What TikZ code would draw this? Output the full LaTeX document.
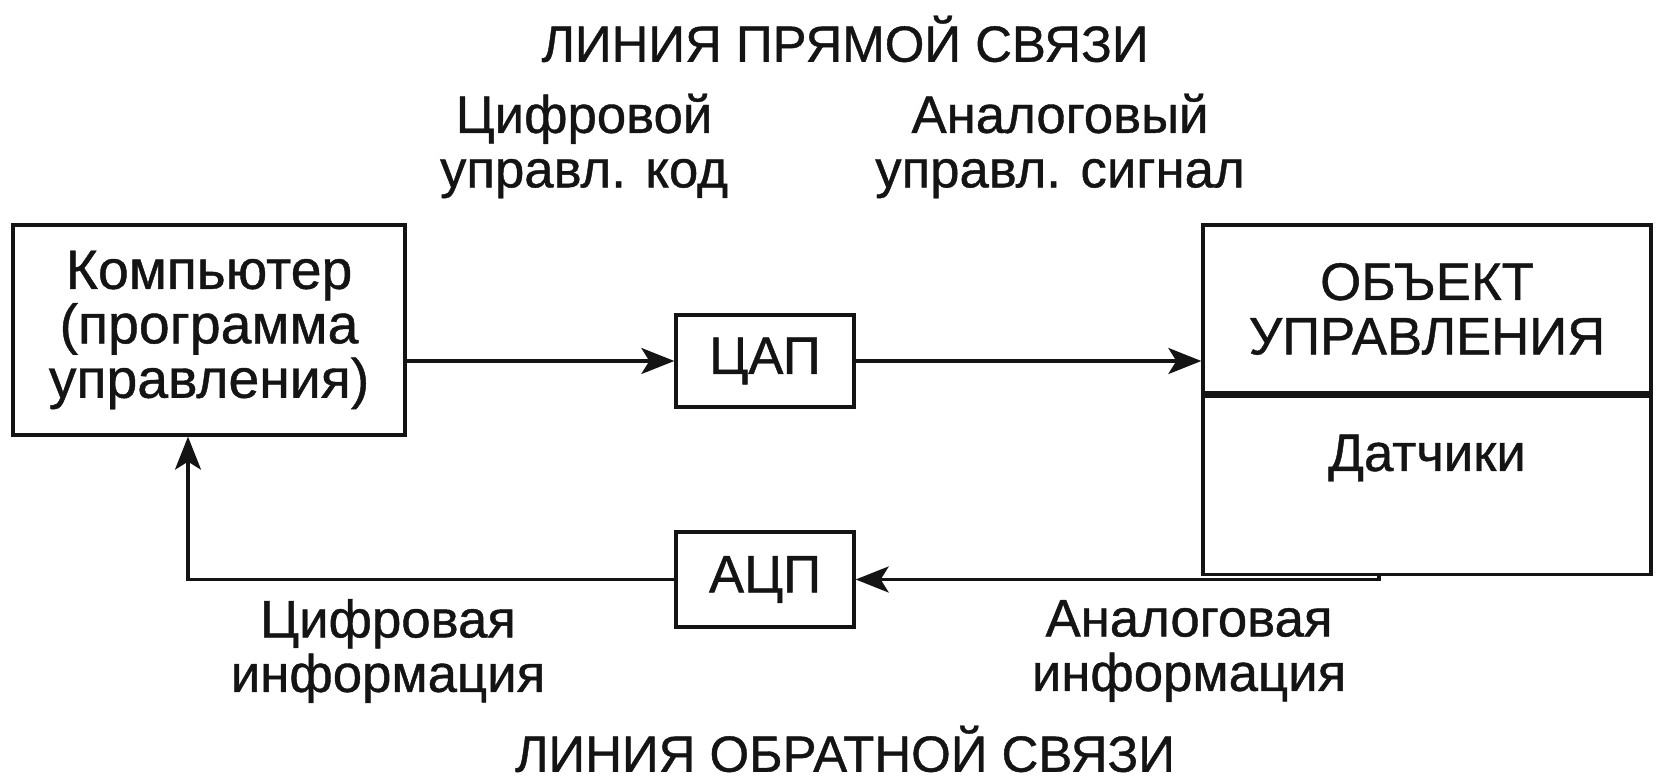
\documentclass[tikz,border=0pt]{standalone}
\usepackage{fontspec}
\setmainfont{Liberation Sans}[FakeBold=0.8]
\usetikzlibrary{arrows.meta}

\begin{document}
\begin{tikzpicture}[
    every node/.style={font=\fontsize{30}{31}\selectfont, align=center, text=inkcolor},
    block/.style={draw=inkcolor, line width=1.9pt, inner sep=0pt},
    line title/.style={font=\fontsize{29}{31}\selectfont},
    signal/.style={draw=inkcolor, line width=1.9pt, -{Stealth[length=0.66cm, width=0.52cm, inset=0.16cm]}}
]
\definecolor{inkcolor}{RGB}{20,20,20}   % Near black

% Fix the size of the picture
\useasboundingbox (0,0) rectangle (33.14,-15.6);

% Titles of the two lines
\node[line title] (fwdline) at (16.9,-0.78) {ЛИНИЯ ПРЯМОЙ СВЯЗИ};
\node[line title] (backline) at (16.9,-14.98) {ЛИНИЯ ОБРАТНОЙ СВЯЗИ};

% Blocks
\node[block, minimum width=7.84cm, minimum height=4.2cm, font=\fontsize{31.5}{31}\selectfont] (comp) at (4.18,-6.6) {Компьютер\\(программа\\управления)};
\node[block, minimum width=3.56cm, minimum height=1.84cm] (dac) at (15.3,-7.22) {ЦАП};
\node[block, minimum width=3.56cm, minimum height=1.9cm] (adc) at (15.3,-11.59) {АЦП};
\node[block, minimum width=8.96cm, minimum height=3.36cm] (plant) at (28.54,-6.18) {ОБЪЕКТ\\УПРАВЛЕНИЯ};
\node[block, minimum width=8.96cm, minimum height=3.56cm, text depth=1.3cm, anchor=north] (sensors) at (plant.south) {Датчики};

% Signal labels
\node (dcode) at (11.68,-2.92) {Цифровой\\управл. код};
\node (asignal) at (21.2,-2.92) {Аналоговый\\управл. сигнал};
\node (dinfo) at (7.76,-13.02) {Цифровая\\информация};
\node (ainfo) at (23.78,-13.02) {Аналоговая\\информация};

% Forward line
\draw[signal] (comp.east |- dac.west) -- (dac.west);
\draw[signal] (dac.east) -- (dac.east -| plant.west);

% Feedback line
\coordinate (tap) at ([xshift=-0.96cm]sensors.south);
\coordinate (ret) at ([xshift=-0.42cm]comp.south);
\draw[signal] (tap) |- (adc.east);
\draw[signal] (adc.west) -| (ret);

\end{tikzpicture}
\end{document}
